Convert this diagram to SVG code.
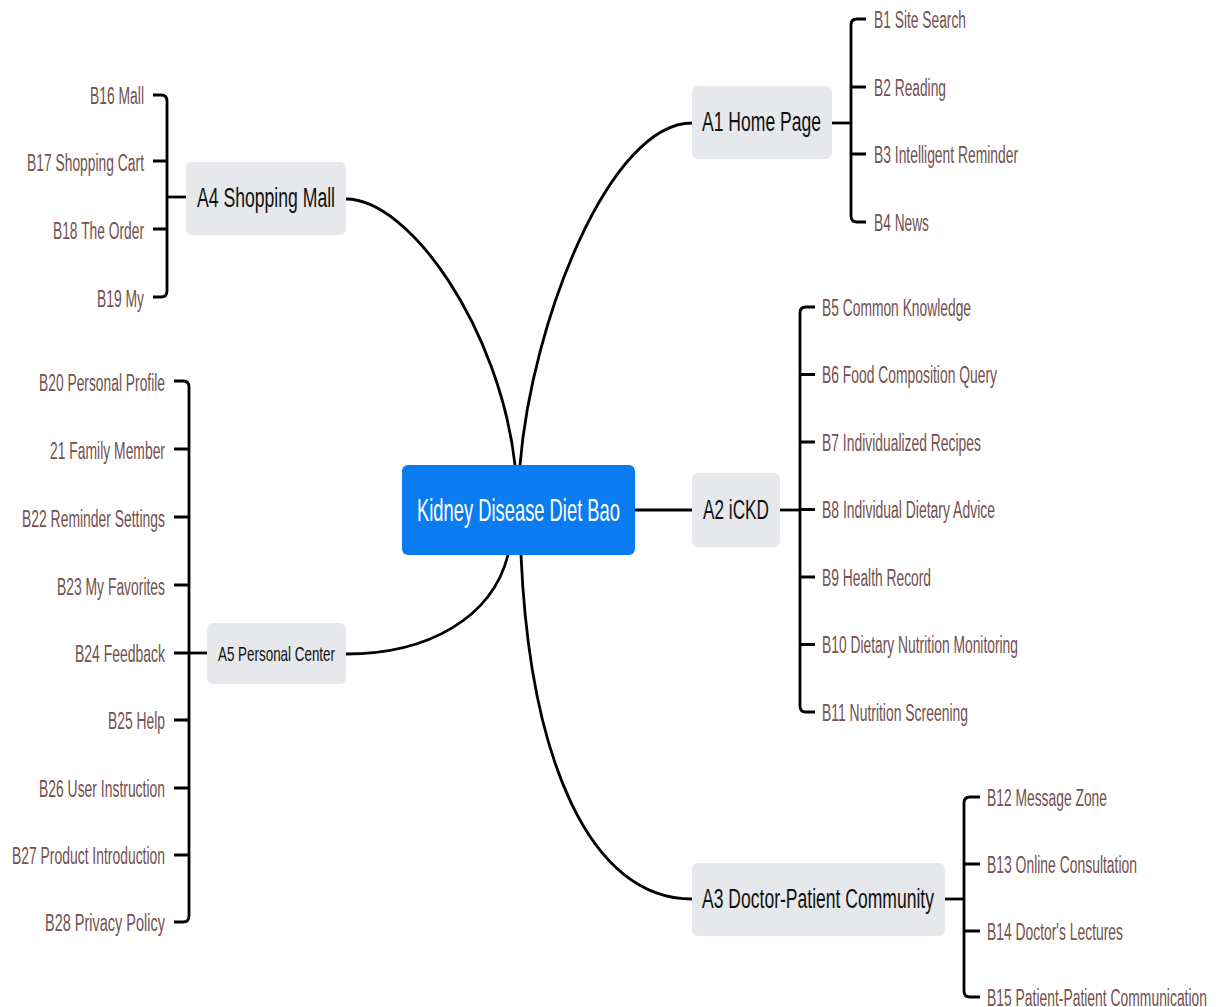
<svg xmlns="http://www.w3.org/2000/svg" width="1216" height="1007" viewBox="0 0 1216 1007">
<style>
text{font-family:"Liberation Sans",Arial,sans-serif;}
.b{font-size:23px;fill:#74504f;}
.r{text-anchor:end;}
.a{font-size:27px;fill:#111;}
.a5{font-size:21px;fill:#111;}
.box{fill:#e6e8eb;}
.ln{fill:none;stroke:#000;stroke-width:2.8;stroke-linecap:butt;}
</style>
<rect width="1216" height="1007" fill="#fff"/>
<g id="connectors">
<path class="ln" d="M346,199 C410,199 500,330 515,465"/>
<path class="ln" d="M520,465 C532,320 610,123 692,123"/>
<path class="ln" d="M635,510 H692"/>
<path class="ln" d="M521,555 C530,760 590,899 692,899"/>
<path class="ln" d="M508,555 C492,618 428,654 346,654"/>
<path class="ln" d="M832,123 H851"/>
<path class="ln" d="M866,19 H857 Q851,19 851,25 V216 Q851,222 857,222 H866 M851,87 H866 M851,154 H866"/>
<path class="ln" d="M780,510 H800"/>
<path class="ln" d="M815,307 H806 Q800,307 800,313 V706 Q800,712 806,712 H815 M800,374.5 H815 M800,442 H815 M800,509.5 H815 M800,577 H815 M800,644.5 H815"/>
<path class="ln" d="M945,899 H964"/>
<path class="ln" d="M980,797 H970 Q964,797 964,803 V991 Q964,997 970,997 H980 M964,864 H980 M964,931 H980"/>
<path class="ln" d="M186,197 H167"/>
<path class="ln" d="M153,95 H161 Q167,95 167,101 V291 Q167,297 161,297 H153 M167,161 H153 M167,229 H153"/>
<path class="ln" d="M207,653 H189"/>
<path class="ln" d="M174,381 H183 Q189,381 189,387 V916 Q189,922 183,922 H174 M189,449 H174 M189,517 H174 M189,585 H174 M189,653 H174 M189,720 H174 M189,788 H174 M189,855 H174"/>
</g>
<g id="center">
<rect x="402" y="465" width="233" height="90" rx="6" fill="#0a7cef"/>
<text x="417" y="521" font-size="32" fill="#fff" textLength="203" lengthAdjust="spacingAndGlyphs">Kidney Disease Diet Bao</text>
</g>
<g id="A1">
<rect class="box" x="692" y="86" width="140" height="73" rx="6"/>
<text class="a" x="702" y="131" textLength="119" lengthAdjust="spacingAndGlyphs">A1 Home Page</text>
</g>
<g id="A2">
<rect class="box" x="692" y="473" width="88" height="74" rx="6"/>
<text class="a" x="703" y="519" textLength="66" lengthAdjust="spacingAndGlyphs">A2 iCKD</text>
</g>
<g id="A3">
<rect class="box" x="692" y="863" width="253" height="73" rx="6"/>
<text class="a" x="702" y="908" textLength="232" lengthAdjust="spacingAndGlyphs">A3 Doctor-Patient Community</text>
</g>
<g id="A4">
<rect class="box" x="186" y="162" width="160" height="73" rx="6"/>
<text class="a" x="197" y="207" textLength="138" lengthAdjust="spacingAndGlyphs">A4 Shopping Mall</text>
</g>
<g id="A5">
<rect class="box" x="207" y="623" width="139" height="61" rx="6"/>
<text class="a5" x="218" y="661" textLength="117" lengthAdjust="spacingAndGlyphs">A5 Personal Center</text>
</g>
<g id="B1"><text class="b" x="874" y="27.5" textLength="92" lengthAdjust="spacingAndGlyphs">B1 Site Search</text></g>
<g id="B2"><text class="b" x="874" y="95.5" textLength="72" lengthAdjust="spacingAndGlyphs">B2 Reading</text></g>
<g id="B3"><text class="b" x="874" y="162.5" textLength="144" lengthAdjust="spacingAndGlyphs">B3 Intelligent Reminder</text></g>
<g id="B4"><text class="b" x="874" y="230.5" textLength="55" lengthAdjust="spacingAndGlyphs">B4 News</text></g>
<g id="B5"><text class="b" x="822" y="315.5" textLength="149" lengthAdjust="spacingAndGlyphs">B5 Common Knowledge</text></g>
<g id="B6"><text class="b" x="822" y="382.5" textLength="175" lengthAdjust="spacingAndGlyphs">B6 Food Composition Query</text></g>
<g id="B7"><text class="b" x="822" y="450.5" textLength="159" lengthAdjust="spacingAndGlyphs">B7 Individualized Recipes</text></g>
<g id="B8"><text class="b" x="822" y="517.5" textLength="173" lengthAdjust="spacingAndGlyphs">B8 Individual Dietary Advice</text></g>
<g id="B9"><text class="b" x="822" y="585.5" textLength="109" lengthAdjust="spacingAndGlyphs">B9 Health Record</text></g>
<g id="B10"><text class="b" x="822" y="652.5" textLength="196" lengthAdjust="spacingAndGlyphs">B10 Dietary Nutrition Monitoring</text></g>
<g id="B11"><text class="b" x="822" y="720.5" textLength="146" lengthAdjust="spacingAndGlyphs">B11 Nutrition Screening</text></g>
<g id="B12"><text class="b" x="987" y="805.5" textLength="120" lengthAdjust="spacingAndGlyphs">B12 Message Zone</text></g>
<g id="B13"><text class="b" x="987" y="872.5" textLength="150" lengthAdjust="spacingAndGlyphs">B13 Online Consultation</text></g>
<g id="B14"><text class="b" x="987" y="939.5" textLength="136" lengthAdjust="spacingAndGlyphs">B14 Doctor's Lectures</text></g>
<g id="B15"><text class="b" x="987" y="1006" textLength="220" lengthAdjust="spacingAndGlyphs">B15 Patient-Patient Communication</text></g>
<g id="B16"><text class="b r" x="144" y="103.5" textLength="54" lengthAdjust="spacingAndGlyphs">B16 Mall</text></g>
<g id="B17"><text class="b r" x="144" y="170.5" textLength="117" lengthAdjust="spacingAndGlyphs">B17 Shopping Cart</text></g>
<g id="B18"><text class="b r" x="144" y="238.5" textLength="91" lengthAdjust="spacingAndGlyphs">B18 The Order</text></g>
<g id="B19"><text class="b r" x="144" y="306.5" textLength="47" lengthAdjust="spacingAndGlyphs">B19 My</text></g>
<g id="B20"><text class="b r" x="165" y="390.5" textLength="126" lengthAdjust="spacingAndGlyphs">B20 Personal Profile</text></g>
<g id="B21"><text class="b r" x="165" y="458.5" textLength="115" lengthAdjust="spacingAndGlyphs">21 Family Member</text></g>
<g id="B22"><text class="b r" x="165" y="526.5" textLength="143" lengthAdjust="spacingAndGlyphs">B22 Reminder Settings</text></g>
<g id="B23"><text class="b r" x="165" y="594.5" textLength="108" lengthAdjust="spacingAndGlyphs">B23 My Favorites</text></g>
<g id="B24"><text class="b r" x="165" y="661.5" textLength="90" lengthAdjust="spacingAndGlyphs">B24 Feedback</text></g>
<g id="B25"><text class="b r" x="165" y="728.5" textLength="57" lengthAdjust="spacingAndGlyphs">B25 Help</text></g>
<g id="B26"><text class="b r" x="165" y="796.5" textLength="126" lengthAdjust="spacingAndGlyphs">B26 User Instruction</text></g>
<g id="B27"><text class="b r" x="165" y="863.5" textLength="153" lengthAdjust="spacingAndGlyphs">B27 Product Introduction</text></g>
<g id="B28"><text class="b r" x="165" y="930.5" textLength="120" lengthAdjust="spacingAndGlyphs">B28 Privacy Policy</text></g>
</svg>
